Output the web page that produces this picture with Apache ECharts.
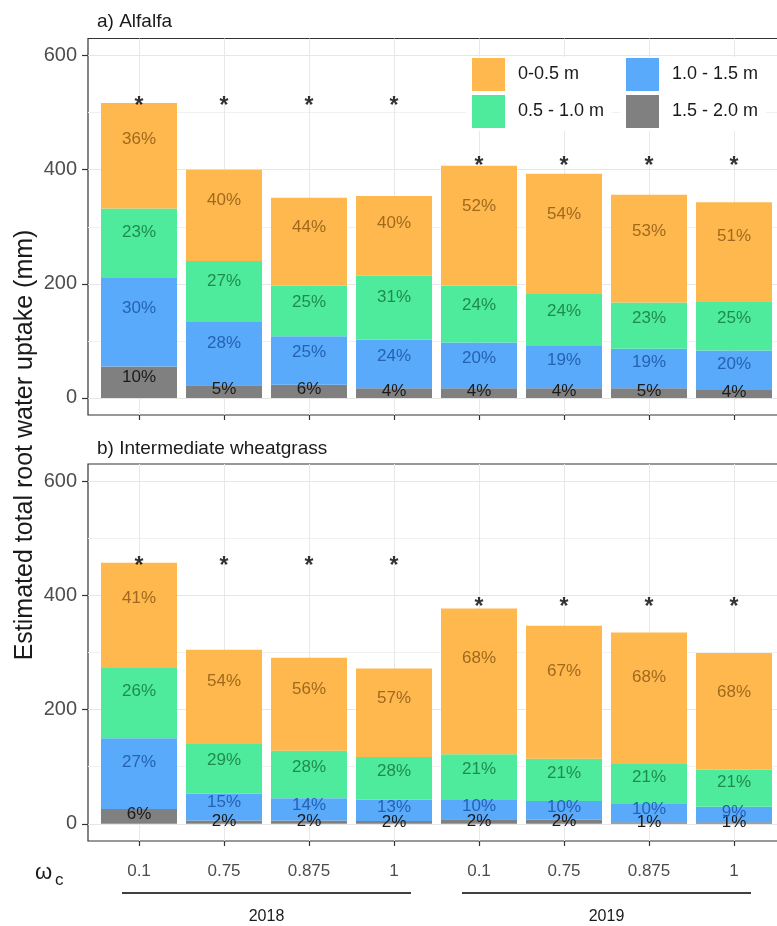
<!DOCTYPE html>
<html>
<head>
<meta charset="UTF-8">
<title>Estimated total root water uptake</title>
<style>
  html,body{margin:0;height:100%;width:100%;background:#fff}
  #chart{width:777px;height:926px}
</style>
<script src="https://cdn.jsdelivr.net/npm/echarts@6/dist/echarts.min.js"></script>
</head>
<body>
<div id="chart"></div>
<script>
  // x categories: critical water content per year
  var years = ['2018', '2019'];
  var omegaLabels = ['0.1', '0.75', '0.875', '1', '0.1', '0.75', '0.875', '1'];
  var treatments = omegaLabels.map(function (w, i) { return years[i < 4 ? 0 : 1] + ' ' + w; });

  var layers = ['0-0.5 m', '0.5 - 1.0 m', '1.0 - 1.5 m', '1.5 - 2.0 m'];
  var layerColors = ['#ffb84d', '#4deb9b', '#5aaafc', '#808080'];
  var textColors = ['#a0691d', '#1f8c4c', '#2462b2', '#1a1a1a'];

  // a) Alfalfa, uptake per soil layer (mm)
  var alfalfaL1 = [185, 160, 154, 140, 210, 211, 189, 175];
  var alfalfaL2 = [122, 107, 89, 112, 100, 91, 81, 85];
  var alfalfaL3 = [155, 111, 85, 85, 80, 74, 69, 69];
  var alfalfaL4 = [55, 22, 23, 17, 17, 17, 17, 14];
  // percentages printed on the bars
  var alfalfaPct1 = [36, 40, 44, 40, 52, 54, 53, 51];
  var alfalfaPct2 = [23, 27, 25, 31, 24, 24, 23, 25];
  var alfalfaPct3 = [30, 28, 25, 24, 20, 19, 19, 20];
  var alfalfaPct4 = [10, 5, 6, 4, 4, 4, 5, 4];
  var alfalfaStars = [515, 515, 515, 515, 411, 411, 411, 411];

  // b) Intermediate wheatgrass
  var wheatL1 = [184, 165, 163, 155, 255, 233, 230, 204];
  var wheatL2 = [123, 87, 83, 75, 79, 74, 69, 65];
  var wheatL3 = [124, 47, 39, 37, 35, 33, 33, 27];
  var wheatL4 = [26, 6, 6, 5, 8, 7, 3, 3];
  var wheatPct1 = [41, 54, 56, 57, 68, 67, 68, 68];
  var wheatPct2 = [26, 29, 28, 28, 21, 21, 21, 21];
  var wheatPct3 = [27, 15, 14, 13, 10, 10, 10, 9];
  var wheatPct4 = [6, 2, 2, 2, 2, 2, 1, 1];
  var wheatStars = [455, 455, 455, 455, 383, 383, 383, 383];

  var yTicks = [0, 200, 400, 600];
  var yMinor = [100, 300, 500];
  var xPos = [1, 2, 3, 4, 5, 6, 7, 8];

  var font = 'Liberation Sans, Arial, sans-serif';
  var chart = echarts.init(document.getElementById('chart'));

  function frameX(grid, showLabels) {
    return {
      gridIndex: grid, type: 'value', min: 0.4, max: 8.6,
      axisLine: { show: false, onZero: false },
      axisTick: { show: true, length: 5, customValues: xPos, lineStyle: { color: '#333', width: 1.2 } },
      axisLabel: {
        show: showLabels, customValues: xPos, margin: 22, fontSize: 17, color: '#4d4d4d',
        formatter: function (v) { return omegaLabels[Math.round(v) - 1]; }
      },
      splitLine: { show: true, lineStyle: { color: '#e8e8e8' } }
    };
  }
  function frameY(grid) {
    return {
      gridIndex: grid, type: 'value', min: -30, max: 630,
      axisLine: { show: false },
      axisTick: { show: true, length: 6, customValues: yTicks, lineStyle: { color: '#333', width: 1.2 } },
      axisLabel: { customValues: yTicks, fontSize: 20, color: '#4d4d4d', margin: 11 },
      splitLine: { show: true, lineStyle: { color: '#e6e6e6' } }
    };
  }
  function minorY(grid) {
    return {
      gridIndex: grid, type: 'value', min: -30, max: 630, position: 'left',
      axisLine: { show: false },
      axisTick: { show: false, customValues: yMinor },
      axisLabel: { show: false, customValues: yMinor },
      splitLine: { show: true, lineStyle: { color: '#f1f1f1' } }
    };
  }

  function panelSeries(xi, yi, vals, pcts, stars, stackName) {
    var out = [];
    // bottom layer first so that the stack builds upward
    for (var k = 3; k >= 0; k--) {
      (function (k) {
        out.push({
          name: layers[k], type: 'bar', stack: stackName,
          xAxisIndex: xi, yAxisIndex: yi, barWidth: 76,
          data: vals[k],
          itemStyle: { color: layerColors[k] },
          label: {
            show: true, position: ['50%', '34%'], align: 'center', verticalAlign: 'middle',
            fontSize: 17, color: textColors[k],
            formatter: function (p) { return pcts[k][p.dataIndex] + '%'; }
          }
        });
      })(k);
    }
    out.push({
      type: 'scatter', xAxisIndex: xi, yAxisIndex: yi, data: stars,
      symbol: 'circle', symbolSize: 1, itemStyle: { color: 'rgba(0,0,0,0)' }, z: 5,
      label: { show: true, position: 'inside', formatter: '*', fontSize: 23, fontWeight: 'bold', color: '#000', offset: [0, 3] }
    });
    return out;
  }

  var legendBase = {
    orient: 'vertical', top: 57, itemWidth: 33, itemHeight: 33, itemGap: 4, icon: 'rect',
    backgroundColor: '#fff', padding: [1, 8, 3, 6],
    textStyle: { fontSize: 18, color: '#1a1a1a', padding: [0, 0, 0, 8] }
  };

  var option = {
    animation: false,
    textStyle: { fontFamily: font },
    title: [
      { text: 'a) Alfalfa', left: 97, top: 12, padding: 0, textStyle: { fontSize: 19, fontWeight: 'normal', color: '#1a1a1a' } },
      { text: 'b) Intermediate wheatgrass', left: 97, top: 439, padding: 0, textStyle: { fontSize: 19, fontWeight: 'normal', color: '#1a1a1a' } }
    ],
    legend: [
      Object.assign({}, legendBase, { left: 466, data: [layers[0], layers[1]] }),
      Object.assign({}, legendBase, { left: 620, data: [layers[2], layers[3]] })
    ],
    grid: [
      { left: 88, top: 38.5, width: 697, height: 376.5, show: true, borderColor: '#333', borderWidth: 1.2, outerBoundsMode: 'none' },
      { left: 96.5, top: 38.5, width: 680, height: 376.5, outerBoundsMode: 'none' },
      { left: 88, top: 464, width: 697, height: 377, show: true, borderColor: '#333', borderWidth: 1.2, outerBoundsMode: 'none' },
      { left: 96.5, top: 464, width: 680, height: 377, outerBoundsMode: 'none' }
    ],
    xAxis: [
      frameX(0, false),
      { gridIndex: 1, type: 'category', data: treatments, show: false },
      frameX(2, true),
      { gridIndex: 3, type: 'category', data: treatments, show: false }
    ],
    yAxis: [
      frameY(0), minorY(0),
      { gridIndex: 1, type: 'value', min: -30, max: 630, show: false },
      frameY(2), minorY(2),
      { gridIndex: 3, type: 'value', min: -30, max: 630, show: false }
    ],
    series: [].concat(
      panelSeries(1, 2, [alfalfaL1, alfalfaL2, alfalfaL3, alfalfaL4],
        [alfalfaPct1, alfalfaPct2, alfalfaPct3, alfalfaPct4], alfalfaStars, 'a'),
      panelSeries(3, 5, [wheatL1, wheatL2, wheatL3, wheatL4],
        [wheatPct1, wheatPct2, wheatPct3, wheatPct4], wheatStars, 'b')
    )
  };
  chart.setOption(option);

  // year brackets under the x axis, placed through the frame axis scale
  var px = function (v) { return chart.convertToPixel({ xAxisIndex: 2 }, v); };
  var lineY = 893, yearY = 917;
  var graphics = [
    { type: 'text', x: 25, y: 445, rotation: Math.PI / 2,
      style: { text: 'Estimated total root water uptake (mm)', font: '25px ' + font, fill: '#1a1a1a', align: 'center', verticalAlign: 'middle' } },
    { type: 'text', x: 35, y: 873, style: { text: 'ω', font: '22px ' + font, fill: '#1a1a1a', align: 'left', verticalAlign: 'middle' } },
    { type: 'text', x: 55, y: 880, style: { text: 'c', font: '17px ' + font, fill: '#1a1a1a', align: 'left', verticalAlign: 'middle' } }
  ];
  years.forEach(function (yr, j) {
    var first = j * 4 + 1, last = j * 4 + 4;
    graphics.push({ type: 'line', shape: { x1: px(first - 0.2), y1: lineY, x2: px(last + 0.2), y2: lineY }, style: { stroke: '#000', lineWidth: 1.5 } });
    graphics.push({ type: 'text', x: px((first + last) / 2), y: yearY,
      style: { text: yr, font: '16px ' + font, fill: '#1a1a1a', align: 'center', verticalAlign: 'middle' } });
  });
  chart.setOption({ graphic: graphics });
</script>
</body>
</html>
